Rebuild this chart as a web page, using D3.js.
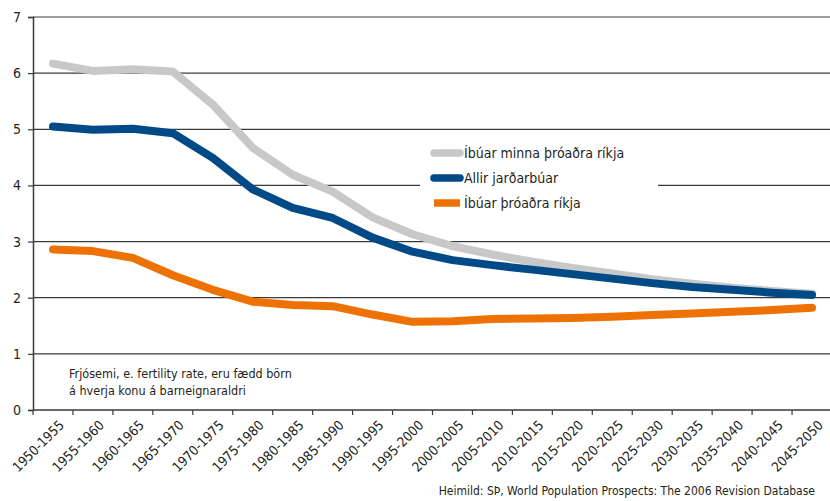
<!DOCTYPE html>
<html>
<head>
<meta charset="utf-8">
<script src="https://cdn.jsdelivr.net/npm/d3@7"></script>
<style>
  body { margin: 0; background: #fff; }
  svg text { font-family: "DejaVu Sans Condensed", Roboto, sans-serif; fill: #231f20; }
</style>
</head>
<body>
<svg id="chart" width="830" height="501"></svg>
<script>
// categories (5-year periods)
var periods = ["1950-1955", "1955-1960", "1960-1965", "1965-1970", "1970-1975",
	"1975-1980", "1980-1985", "1985-1990", "1990-1995", "1995-2000",
	"2000-2005", "2005-2010", "2010-2015", "2015-2020", "2020-2025",
	"2025-2030", "2030-2035", "2035-2040", "2040-2045", "2045-2050"];

// fertility rate, less developed regions
var lessDeveloped = [6.17, 6.04, 6.07, 6.03, 5.44, 4.67, 4.19, 3.89, 3.43, 3.13,
	2.92, 2.77, 2.64, 2.53, 2.43, 2.33, 2.25, 2.18, 2.12, 2.07];
// fertility rate, world
var world = [5.05, 4.99, 5.01, 4.93, 4.49, 3.93, 3.60, 3.42, 3.07, 2.82,
	2.67, 2.58, 2.50, 2.42, 2.34, 2.26, 2.19, 2.14, 2.09, 2.05];
// fertility rate, more developed regions
var moreDeveloped = [2.86, 2.83, 2.71, 2.40, 2.14, 1.93, 1.87, 1.85, 1.70, 1.57,
	1.58, 1.62, 1.63, 1.64, 1.66, 1.69, 1.72, 1.75, 1.78, 1.82];

var yTicks = [0, 1, 2, 3, 4, 5, 6, 7];

var seriesNames = ["Íbúar minna þróaðra ríkja", "Allir jarðarbúar", "Íbúar þróaðra ríkja"];
var seriesColors = ["#c8c8c8", "#004a87", "#ee7203"];

var svg = d3.select("#chart"),
	plotLeft = 33, plotRight = 832, plotTop = 17, plotBottom = 410;

var x = d3.scaleBand().domain(periods).range([plotLeft, plotRight]);
var y = d3.scaleLinear().domain([0, 7]).range([plotBottom, plotTop]);

// --- GRID --- //
svg.append("g").selectAll("line").data(yTicks.slice(1)).enter().append("line")
	.attr("x1", plotLeft).attr("x2", 830)
	.attr("y1", function(d) { return y(d); })
	.attr("y2", function(d) { return y(d); })
	.attr("stroke", "#3a3a3a").attr("stroke-width", 1.2);

// --- Y AXIS --- //
var yAxis = svg.append("g")
	.attr("transform", "translate(" + plotLeft + ",0)")
	.call(d3.axisLeft(y).tickValues(yTicks).tickFormat(d3.format("d")).tickSize(5).tickPadding(7));
yAxis.select(".domain").attr("stroke", "#3a3a3a").attr("stroke-width", 1.5);
yAxis.selectAll(".tick line").attr("stroke", "#3a3a3a").attr("stroke-width", 1.2);
yAxis.selectAll("text").attr("font-size", 14).attr("fill", "#231f20")
	.style("font-family", "\"DejaVu Sans Condensed\", Roboto, sans-serif");

// --- X AXIS --- //
var xAxis = svg.append("g")
	.attr("transform", "translate(0," + plotBottom + ")");
xAxis.append("line").attr("x1", plotLeft).attr("x2", 830)
	.attr("stroke", "#3a3a3a").attr("stroke-width", 1.5);
xAxis.selectAll(".tk").data(periods).enter().append("line")
	.attr("class", "tk")
	.attr("x1", function(d) { return x(d); })
	.attr("x2", function(d) { return x(d); })
	.attr("y1", 0).attr("y2", 5)
	.attr("stroke", "#3a3a3a").attr("stroke-width", 1.2);
xAxis.selectAll(".lbl").data(periods).enter().append("text")
	.attr("class", "lbl")
	.attr("text-anchor", "end")
	.attr("font-size", 13.5)
	.attr("transform", function(d) {
		return "translate(" + (x(d) + x.bandwidth() / 2 + 12) + ",16) rotate(-45)";
	})
	.text(function(d) { return d; });

// --- LINES --- //
var line = d3.line()
	.x(function(d, i) { return x(periods[i]) + x.bandwidth() / 2; })
	.y(function(d) { return y(d); });

[lessDeveloped, world, moreDeveloped].forEach(function(series, i) {
	svg.append("path")
		.datum(series)
		.attr("d", line)
		.attr("fill", "none")
		.attr("stroke", seriesColors[i])
		.attr("stroke-width", 8)
		.attr("stroke-linecap", "round")
		.attr("stroke-linejoin", "round");
});

// --- LEGEND --- //
var legend = svg.append("g").attr("transform", "translate(420,140)");
legend.append("rect").attr("width", 238).attr("height", 78).attr("fill", "#fff");
var items = legend.selectAll(".item").data(seriesNames).enter().append("g")
	.attr("transform", function(d, i) { return "translate(14," + (13 + i * 25) + ")"; });
items.append("line")
	.attr("x1", 0).attr("x2", 26)
	.attr("stroke", function(d, i) { return seriesColors[i]; })
	.attr("stroke-width", 7.5)
	.attr("stroke-linecap", function(d, i) { return i < 2 ? "round" : "butt"; });
items.append("text")
	.attr("x", 30).attr("dy", "0.35em")
	.attr("font-size", 14)
	.text(function(d) { return d; });

// --- NOTES --- //
svg.append("text").attr("x", 69).attr("y", 378).attr("font-size", 12.5)
	.text("Frjósemi, e. fertility rate, eru fædd börn");
svg.append("text").attr("x", 69).attr("y", 395).attr("font-size", 12.5)
	.text("á hverja konu á barneignaraldri");
svg.append("text").attr("x", 815).attr("y", 495).attr("text-anchor", "end").attr("font-size", 12)
	.text("Heimild:  SÞ, World Population Prospects:  The 2006 Revision Database");
</script>
</body>
</html>
